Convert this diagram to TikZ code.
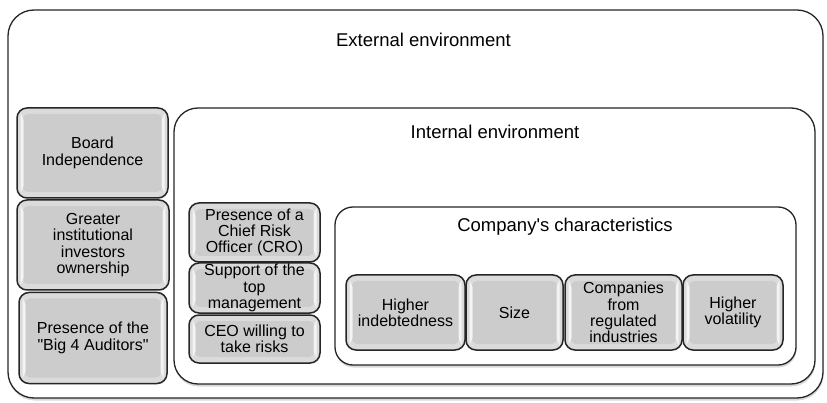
\documentclass[tikz,border=0pt]{standalone}
\usepackage{fontspec}
\setmainfont{Liberation Sans}
\usetikzlibrary{shadows}

\begin{document}
\begin{tikzpicture}[x=1pt,y=-1pt]
    \tikzstyle{frame}=[draw=black!85,line width=1.3pt,fill=white,inner sep=0pt,
      drop shadow={opacity=.3,shadow xshift=.5pt,shadow yshift=-2.5pt}]
    \tikzstyle{title}=[inner sep=0pt,font=\fontsize{18.5}{22}\selectfont]
    \tikzstyle{button}=[draw=black!85,line width=1.5pt,rounded corners=10pt,fill=black!14,
      align=center,inner sep=0pt,font=\fontsize{16}{16.3}\selectfont,
      path picture={
        \fill[black!20,rounded corners=5pt] ([shift={(6pt,6pt)}]path picture bounding box.south west)
          rectangle ([shift={(-6pt,-6pt)}]path picture bounding box.north east);
        \fill[white,opacity=.7,sharp corners] ([shift={(3.5pt,5pt)}]path picture bounding box.south west)
          -- ([shift={(6.5pt,12pt)}]path picture bounding box.south west)
          -- ([shift={(6.5pt,-12pt)}]path picture bounding box.north west)
          -- ([shift={(3.5pt,-5pt)}]path picture bounding box.north west) -- cycle;
        \fill[white,opacity=.7,sharp corners] ([shift={(-3.5pt,5pt)}]path picture bounding box.south east)
          -- ([shift={(-6.5pt,12pt)}]path picture bounding box.south east)
          -- ([shift={(-6.5pt,-12pt)}]path picture bounding box.north east)
          -- ([shift={(-3.5pt,-5pt)}]path picture bounding box.north east) -- cycle;
      }]
    \useasboundingbox (0,0) rectangle (827,403);
    \node[frame,rounded corners=26pt,minimum width=815pt,minimum height=388pt] (ext) at (415.5,204) {};
    \node[title] (ext_t) at (423.5,40) {External environment};
    \node[frame,rounded corners=24pt,minimum width=641pt,minimum height=276pt] (int) at (494.5,246) {};
    \node[title] (int_t) at (495,132) {Internal environment};
    \node[frame,rounded corners=18pt,minimum width=461pt,minimum height=158pt] (comp) at (565.5,286) {};
    \node[title] (comp_t) at (565,227) {Company\textquotesingle s characteristics};
    \node[button,minimum width=151pt,minimum height=90pt] (b_1) at (92.5,153) {Board\\Independence};
    \node[button,minimum width=152pt,minimum height=90pt] (b_2) at (93,245) {Greater\\institutional\\investors\\ownership};
    \node[button,minimum width=148pt,minimum height=91pt] (b_3) at (93,338) {Presence of the\\\textquotedbl Big 4 Auditors\textquotedbl};
    \node[button,minimum width=131pt,minimum height=59pt] (i_1) at (254.5,232.5) {Presence of a\\Chief Risk\\Officer (CRO)};
    \node[button,minimum width=131pt,minimum height=50pt] (i_2) at (254.5,288) {Support of the\\top\\management};
    \node[button,minimum width=131pt,minimum height=48pt] (i_3) at (254.5,339) {CEO willing to\\take risks};
    \node[button,minimum width=119pt,minimum height=75pt] (c_1) at (405.5,312.5) {Higher\\indebtedness};
    \node[button,minimum width=97pt,minimum height=75pt] (c_2) at (514.5,312.5) {Size};
    \node[button,minimum width=117pt,minimum height=75pt] (c_3) at (623.5,312.5) {Companies\\from\\regulated\\industries};
    \node[button,minimum width=100pt,minimum height=75pt] (c_4) at (733,312.5) {Higher\\volatility};
\end{tikzpicture}
\end{document}
